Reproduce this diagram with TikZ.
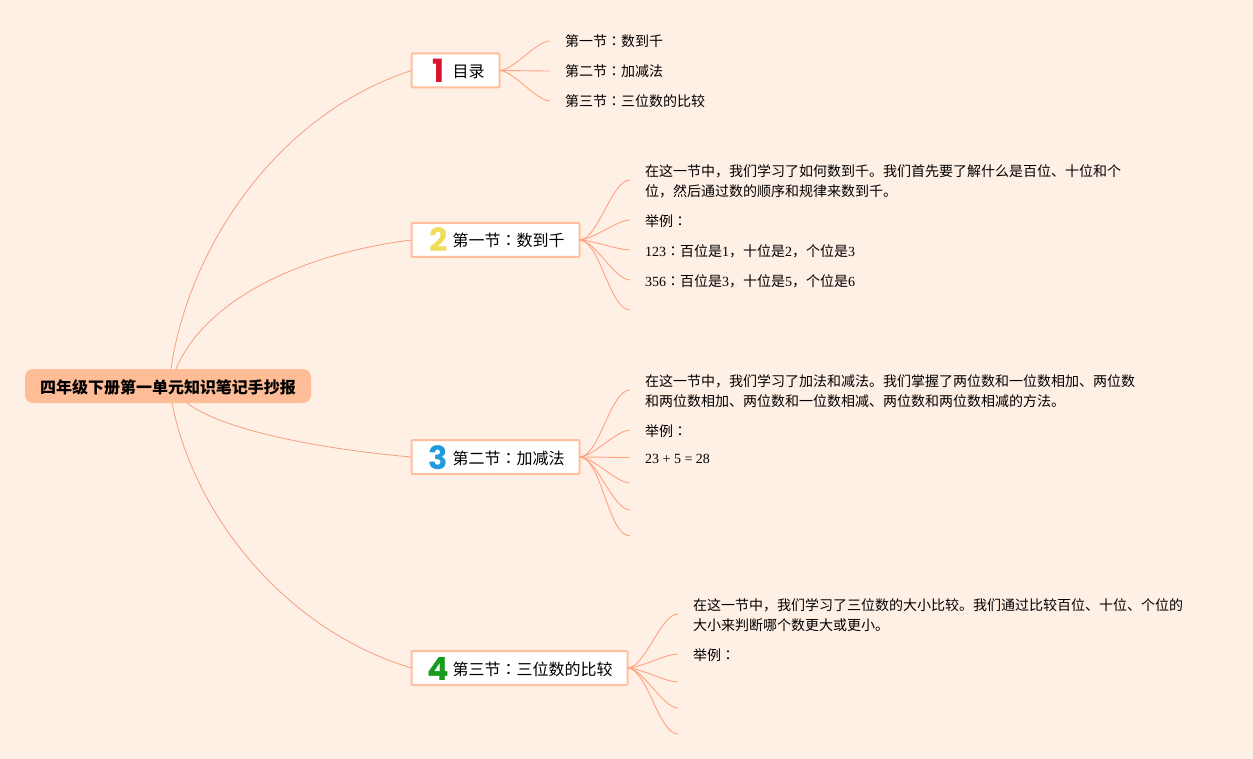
\documentclass[tikz,border=0pt]{standalone}
\usepackage{fontspec}
\setmainfont{Noto Sans CJK SC}
\newfontfamily\tcfont{Noto Sans CJK TC}
\newfontfamily\latfont{Liberation Serif}
\newfontfamily\digfont{Poppins}
\newcommand\cln{{\tcfont ：}}
\newcommand\rom[1]{{\latfont #1}}
\newcommand\seclabel[3]{\makebox[#1pt][l]{\hspace{18pt}\makebox[18pt]{\smash{\raisebox{-5pt}{\fontsize{32}{32}\digfont\bfseries #2}}}\hspace{5pt}\raisebox{0pt}[14pt][0pt]{#3}}}
\definecolor{bgc}{HTML}{FFF0E6}
\definecolor{rootc}{HTML}{FFBD97}
\definecolor{secc}{HTML}{FFBF9C}
\definecolor{linec}{HTML}{FFA283}
\definecolor{mainline}{HTML}{F59E80}
\definecolor{dred}{HTML}{D9142E}
\definecolor{dyel}{HTML}{EFDD5A}
\definecolor{dblu}{HTML}{1F9BDC}
\definecolor{dgrn}{HTML}{179A1D}
\tikzset{
 rootbox/.style={fill=rootc,rounded corners=8pt,minimum width=286pt,minimum height=34pt,inner sep=0pt,outer sep=0pt,font=\fontsize{16}{20}\selectfont\bfseries},
 secbox/.style={draw=secc,fill=white,line width=2pt,rounded corners=1pt,minimum height=34pt,inner sep=0pt,outer sep=0pt,anchor=west,font=\fontsize{16}{20}\selectfont},
 leaf/.style={anchor=west,align=left,inner sep=0pt,font=\fontsize{14}{20}\selectfont},
 mainlink/.style={draw=mainline,line width=0.8pt},
 sublink/.style={draw=linec,line width=0.9pt},
 fan/.style={out=0,in=180,looseness=0.6},
}
\begin{document}
\begin{tikzpicture}[x=1pt,y=-1pt]
\path[use as bounding box,fill=bgc] (0,0) rectangle (1253,759);

% free ends
\foreach \n/\x/\y in {a1/550/41,a2/550/71,a3/550/101,
  b1/630/180,b2/630/220,b3/630/250,b4/630/280,b5/630/310,
  c1/630/390,c2/630/430,c3/630/457.5,c4/630/483,c5/630/510,c6/630/536,
  d1/678/614,d2/678/654,d3/678/682,d4/678/708,d5/678/734}
  {\coordinate (\n) at (\x,\y);}

\node[rootbox] (root) at (168,386) {\raisebox{0pt}[14pt][0pt]{四年级下册第一单元知识笔记手抄报}};
\node[secbox] (n1) at (411.5,70.5) {\seclabel{88}{\textcolor{dred}{1}}{目录}};
\node[secbox] (n2) at (411.5,240) {\seclabel{168}{\textcolor{dyel}{2}}{第一节\cln 数到千}};
\node[secbox] (n3) at (411.5,457) {\seclabel{168}{\textcolor{dblu}{3}}{第二节\cln 加减法}};
\node[secbox] (n4) at (411.5,668) {\seclabel{216}{\textcolor{dgrn}{4}}{第三节\cln 三位数的比较}};

\draw[mainlink] ([xshift=3pt]root.north) .. controls (188,250) and (275,115) .. (n1.west);
\draw[mainlink] ([xshift=8pt]root.north) .. controls (205,300) and (300,254) .. (n2.west);
\draw[mainlink] ([xshift=19pt]root.south) .. controls (225,432) and (330,450) .. (n3.west);
\draw[mainlink] ([xshift=4pt]root.south) .. controls (195,520) and (290,632) .. (n4.west);

\foreach \t in {a1,a2,a3} \draw[sublink] (n1.east) to[fan] (\t);
\foreach \t in {b1,b2,b3,b4,b5} \draw[sublink] (n2.east) to[fan] (\t);
\foreach \t in {c1,c2,c3,c4,c5,c6} \draw[sublink] (n3.east) to[fan] (\t);
\foreach \t in {d1,d2,d3,d4,d5} \draw[sublink] (n4.east) to[fan] (\t);

\node[leaf] (t1) at (565,41) {第一节\cln 数到千};
\node[leaf] (t2) at (565,71) {第二节\cln 加减法};
\node[leaf] (t3) at (565,101) {第三节\cln 三位数的比较};

\node[leaf] (u1) at (645,181) {在这一节中，我们学习了如何数到千。我们首先要了解什么是百位、十位和个\\位，然后通过数的顺序和规律来数到千。};
\node[leaf] (u2) at (645,221) {举例\cln};
\node[leaf] (u3) at (645,251) {\rom{123}\cln 百位是\rom{1}，十位是\rom{2}，个位是\rom{3}};
\node[leaf] (u4) at (645,281) {\rom{356}\cln 百位是\rom{3}，十位是\rom{5}，个位是\rom{6}};

\node[leaf] (v1) at (645,391) {在这一节中，我们学习了加法和减法。我们掌握了两位数和一位数相加、两位数\\和两位数相加、两位数和一位数相减、两位数和两位数相减的方法。};
\node[leaf] (v2) at (645,431) {举例\cln};
\node[leaf] (v3) at (645,459) {\rom{23 + 5 = 28}};

\node[leaf] (w1) at (693,615) {在这一节中，我们学习了三位数的大小比较。我们通过比较百位、十位、个位的\\大小来判断哪个数更大或更小。};
\node[leaf] (w2) at (693,655) {举例\cln};
\end{tikzpicture}
\end{document}
